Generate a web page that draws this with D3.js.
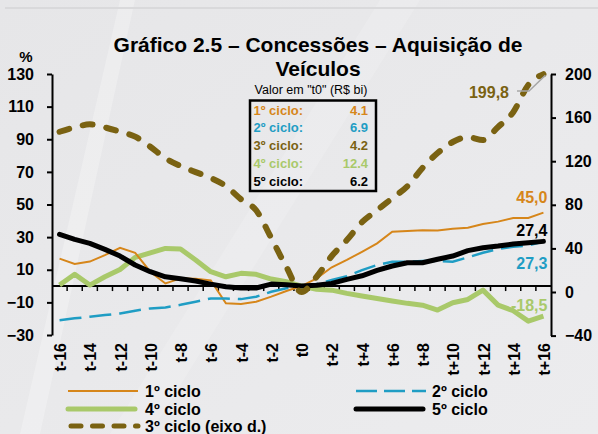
<!DOCTYPE html>
<html>
<head>
<meta charset="utf-8">
<script src="https://cdn.jsdelivr.net/npm/d3@7"></script>
<style>
  html, body { margin: 0; padding: 0; background: #e9e9eb; }
  svg { display: block; font-family: "Liberation Sans", Arial, sans-serif; }
  .bold { font-weight: bold; }
</style>
</head>
<body>
<div id="chart"></div>
<script>
const WIDTH = 598, HEIGHT = 434;

// categories t-16 .. t+16
const periods = d3.range(-16, 17).map(k => k === 0 ? "t0" : (k < 0 ? "t" + k : "t+" + k));

// % change vs t0 (left axis)
const ciclo1 = [16.8, 13.5, 15, 19, 23.5, 20.4, 8.8, 1.6, 4.7, 4.5, 3.5, -10.6, -11, -9.6, -6.5, -3, 0,
  4.7, 11.5, 16, 21, 26.2, 33.3, 33.7, 34.2, 34, 35.2, 35.8, 38, 39.5, 41.7, 41.7, 45];
const ciclo2 = [-20.9, -19.8, -18.8, -17.8, -16.8, -15.1, -13.7, -13.1, -11.5, -9.6, -7.6, -7.6, -8, -6.5, -3.5, -1.4, 0,
  1.2, 3.7, 6.1, 9.8, 12.9, 14.9, 14.9, 15.3, 15.3, 14.9, 17.6, 20.4, 22.7, 24.1, 24.9, 27.3];
const ciclo4 = [0.6, 7.2, 0.6, 5.7, 10.2, 17.6, 20.4, 23.1, 22.7, 16, 8.8, 5.7, 7.8, 7.2, 4.3, 2.7, 0,
  -2, -2.5, -4.5, -6.1, -7.6, -9.2, -10.6, -11.7, -14.7, -10.2, -8.2, -2.5, -11.7, -15.1, -21.5, -18.5];
const ciclo5 = [31.7, 28.6, 26.2, 22.5, 18.4, 12.9, 8.8, 5.7, 4.5, 3.1, 1.2, -0.4, -1.2, -1.2, 1.2, 0.8, 0,
  0.5, 1.6, 4.1, 6.3, 9.6, 12.3, 14.3, 14.3, 16.4, 18.4, 21.7, 23.5, 24.5, 25.8, 26.6, 27.4];
// right axis
const ciclo3 = [147, 151, 153.8, 151, 147, 142.5, 133.3, 122.7, 115.6, 110, 104.6, 97.2, 85, 75, 49.5, 23, 0,
  14, 33, 47.7, 64, 75, 86, 97, 113.8, 127.5, 137.6, 142.2, 139.4, 151.4, 165, 190, 199.8];

const leftTicks = [130, 110, 90, 70, 50, 30, 10, -10, -30];
const rightTicks = [200, 160, 120, 80, 40, 0, -40];

const boxRows = ["1º ciclo:", "2º ciclo:", "3º ciclo:", "4º ciclo:", "5º ciclo:"];
const boxValues = ["4.1", "6.9", "4.2", "12.4", "6.2"];
const endLabels = ["45,0", "27,3", "199,8", "-18,5", "27,4"];

const COLORS = { c1: "#d6861a", c2: "#1f9dc4", c3: "#7a6212", c4: "#a9c96a", c5: "#000000" };

const svg = d3.select("#chart").append("svg")
  .attr("width", WIDTH).attr("height", HEIGHT);

// background
const defs = svg.append("defs");
const grad = defs.append("linearGradient").attr("id", "bg").attr("x1", 0).attr("y1", 0).attr("x2", 1).attr("y2", 1);
grad.append("stop").attr("offset", 0).attr("stop-color", "#e6e6e8");
grad.append("stop").attr("offset", 1).attr("stop-color", "#ececee");
svg.append("rect").attr("width", WIDTH).attr("height", HEIGHT).attr("fill", "url(#bg)");
svg.append("path").attr("d", "M120,0 L135,0 L40,434 L20,434 Z").attr("fill", "#ffffff").attr("opacity", 0.25);
svg.append("path").attr("d", "M380,0 L420,0 L150,434 L110,434 Z").attr("fill", "#ffffff").attr("opacity", 0.15);
svg.append("line").attr("x1", 5).attr("x2", WIDTH).attr("y1", 8).attr("y2", 8)
  .attr("stroke", "#d9d9db").attr("stroke-width", 2);

// scales
const x = d3.scaleBand().domain(periods).range([52, 551]);
const xc = d => x(d) + x.bandwidth() / 2;
const yL = d3.scaleLinear().domain([-30, 130]).range([335, 74]);
const yR = d3.scaleLinear().domain([-40, 200]).range([335.6, 74]);

// axes
const leftAxis = svg.append("g").attr("transform", "translate(52,0)")
  .call(d3.axisLeft(yL).tickValues(leftTicks).tickSize(5).tickPadding(13).tickSizeOuter(0));
const rightAxis = svg.append("g").attr("transform", "translate(551,0)")
  .call(d3.axisRight(yR).tickValues(rightTicks).tickSize(5).tickPadding(9).tickSizeOuter(0));
[leftAxis, rightAxis].forEach(g => {
  g.select(".domain").attr("stroke", "#000").attr("stroke-width", 2);
  g.selectAll(".tick line").attr("stroke", "#000").attr("stroke-width", 2);
  g.selectAll(".tick text").attr("fill", "#000").attr("class", "bold").style("font-size", "16px")
    .style("font-family", "'Liberation Sans', Arial, sans-serif");
});

// zero line with band ticks
const zeroY = yL(0);
svg.append("line").attr("x1", 52).attr("x2", 551).attr("y1", zeroY).attr("y2", zeroY)
  .attr("stroke", "#000").attr("stroke-width", 2);
svg.append("g").selectAll("line").data(periods.slice(1)).join("line")
  .attr("x1", d => x(d)).attr("x2", d => x(d))
  .attr("y1", zeroY).attr("y2", zeroY + 5)
  .attr("stroke", "#000").attr("stroke-width", 1.5);

// category labels (every other)
svg.append("g").selectAll("text").data(periods.filter((d, i) => i % 2 === 0)).join("text")
  .attr("class", "bold")
  .attr("transform", d => `translate(${xc(d) + 1},343) rotate(-90)`)
  .attr("text-anchor", "end").attr("dy", "0.35em")
  .style("font-size", "16px").text(d => d);

// lines
const lineL = d3.line().x((d, i) => xc(periods[i])).y(d => yL(d));

svg.append("path").datum(ciclo4).attr("d", lineL)
  .attr("fill", "none").attr("stroke", COLORS.c4).attr("stroke-width", 5).attr("stroke-linejoin", "round");
svg.append("path").datum(ciclo1).attr("d", lineL)
  .attr("fill", "none").attr("stroke", COLORS.c1).attr("stroke-width", 2);
svg.append("path").datum(ciclo2).attr("d", lineL)
  .attr("fill", "none").attr("stroke", COLORS.c2).attr("stroke-width", 2.5).attr("stroke-dasharray", "22,8");
svg.append("path").datum(ciclo5).attr("d", lineL)
  .attr("fill", "none").attr("stroke", COLORS.c5).attr("stroke-width", 5)
  .attr("stroke-linejoin", "round").attr("stroke-linecap", "round");
svg.append("path").datum(ciclo3).attr("d", d3.line().x((d, i) => xc(periods[i])).y(d => yR(d)).curve(d3.curveMonotoneX))
  .attr("fill", "none").attr("stroke", COLORS.c3).attr("stroke-width", 6)
  .attr("stroke-linecap", "round").attr("stroke-dasharray", "10,14");

// end labels
const last = periods[periods.length - 1];
const endX = xc(last) + 4;
const endData = [
  { t: endLabels[0], c: COLORS.c1, y: 203 },
  { t: endLabels[4], c: COLORS.c5, y: 236 },
  { t: endLabels[1], c: COLORS.c2, y: 269 },
  { t: endLabels[3], c: COLORS.c4, y: 311 },
];
svg.append("g").selectAll("text").data(endData).join("text")
  .attr("class", "bold").attr("x", endX).attr("y", d => d.y)
  .attr("text-anchor", "end").attr("fill", d => d.c).style("font-size", "16px").text(d => d.t);
// 199,8 with leader
svg.append("polyline").attr("points", `517,91 529,91 ${xc(last) + 2},${yR(ciclo3[32]) + 1}`)
  .attr("fill", "none").attr("stroke", "#a6a6a6").attr("stroke-width", 1.5);
svg.append("text").attr("class", "bold").attr("x", 509).attr("y", 98)
  .attr("text-anchor", "end").attr("fill", COLORS.c3).style("font-size", "16px").text(endLabels[2]);

// title
const title = svg.append("text").attr("class", "bold").attr("text-anchor", "middle")
  .style("font-size", "21px").attr("fill", "#000");
title.append("tspan").attr("x", 318).attr("y", 52).text("Gráfico 2.5 – Concessões – Aquisição de");
title.append("tspan").attr("x", 318).attr("y", 76).text("Veículos");

svg.append("text").attr("class", "bold").attr("x", 26).attr("y", 62).attr("text-anchor", "middle")
  .style("font-size", "15px").text("%");

// value box
svg.append("text").attr("x", 311).attr("y", 94).attr("text-anchor", "middle")
  .style("font-size", "12.5px").text('Valor em "t0" (R$ bi)');
svg.append("rect").attr("x", 250).attr("y", 100.5).attr("width", 126).attr("height", 90.5)
  .attr("fill", "none").attr("stroke", "#000").attr("stroke-width", 2.5);
const boxColors = [COLORS.c1, COLORS.c2, COLORS.c3, COLORS.c4, COLORS.c5];
const rows = svg.append("g").selectAll("g").data(boxRows).join("g")
  .attr("transform", (d, i) => `translate(0,${114.5 + i * 17.9})`);
rows.append("text").attr("class", "bold").attr("x", 253.5).style("font-size", "13px")
  .attr("fill", (d, i) => boxColors[i]).text(d => d);
rows.append("text").attr("class", "bold").attr("x", 368).attr("text-anchor", "end").style("font-size", "13px")
  .attr("fill", (d, i) => boxColors[i]).text((d, i) => boxValues[i]);

// legend
const legend = [
  { name: "1º ciclo", c: COLORS.c1, w: 2, dash: null, cap: "butt", x: 68, y: 391 },
  { name: "2º ciclo", c: COLORS.c2, w: 2.5, dash: "21,7", cap: "butt", x: 356, y: 391 },
  { name: "4º ciclo", c: COLORS.c4, w: 5, dash: null, cap: "round", x: 68, y: 409 },
  { name: "5º ciclo", c: COLORS.c5, w: 5, dash: null, cap: "round", x: 356, y: 409 },
  { name: "3º ciclo (eixo d.)", c: COLORS.c3, w: 5, dash: "10,11.5", cap: "round", x: 71, y: 426 },
];
const lg = svg.append("g").selectAll("g").data(legend).join("g");
lg.append("line").attr("x1", d => d.x).attr("x2", d => d.x + (d.cap === "round" ? 67 : 70))
  .attr("y1", d => d.y).attr("y2", d => d.y)
  .attr("stroke", d => d.c).attr("stroke-width", d => d.w)
  .attr("stroke-dasharray", d => d.dash).attr("stroke-linecap", d => d.cap);
lg.append("text").attr("class", "bold").attr("x", d => d.x < 100 ? 145 : 432).attr("y", d => d.y + 6)
  .style("font-size", "16px").text(d => d.name);
</script>
</body>
</html>
